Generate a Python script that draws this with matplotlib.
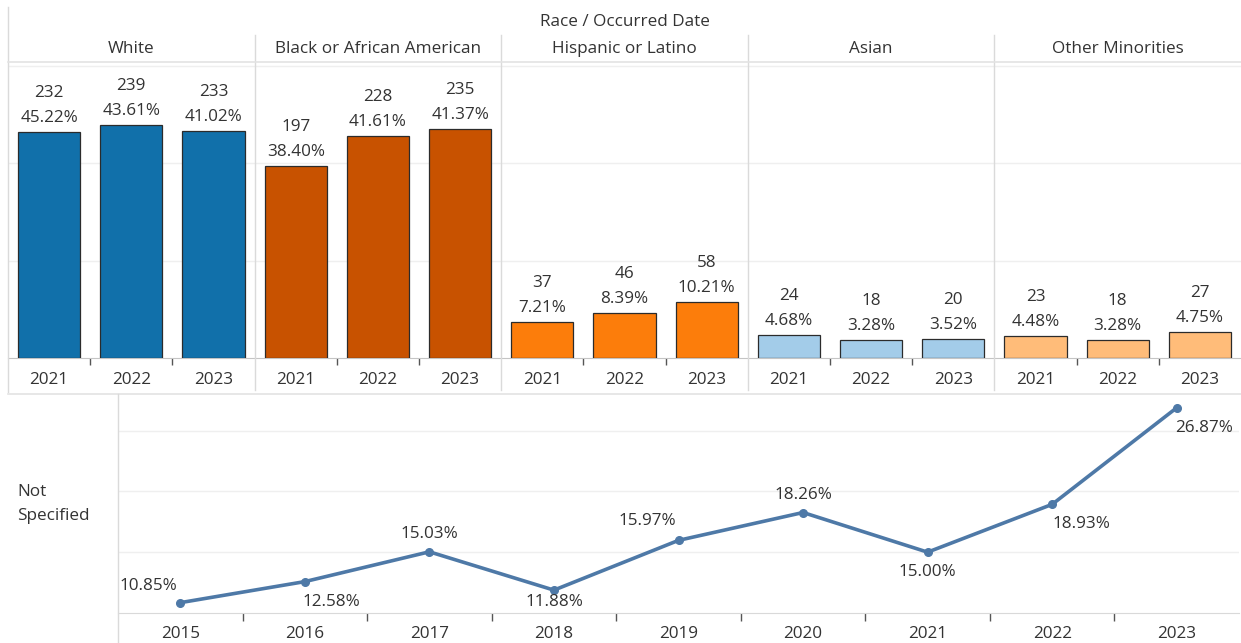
import matplotlib.pyplot as plt
from matplotlib.lines import Line2D

# ---- data ----
races = ["White", "Black or African American", "Hispanic or Latino", "Asian", "Other Minorities"]
years = ["2021", "2022", "2023"]
counts = [
    [232, 239, 233],
    [197, 228, 235],
    [37, 46, 58],
    [24, 18, 20],
    [23, 18, 27],
]
shares = [
    ["45.22%", "43.61%", "41.02%"],
    ["38.40%", "41.61%", "41.37%"],
    ["7.21%", "8.39%", "10.21%"],
    ["4.68%", "3.28%", "3.52%"],
    ["4.48%", "3.28%", "4.75%"],
]
race_colors = ["#1170aa", "#c85200", "#fc7d0b", "#a3cce9", "#ffbc79"]

ns_years = ["2015", "2016", "2017", "2018", "2019", "2020", "2021", "2022", "2023"]
ns_pct = [10.85, 12.58, 15.03, 11.88, 15.97, 18.26, 15.00, 18.93, 26.87]
# label offsets (pixels) and alignment for each point
ns_offsets = [(-3, 17, "right"), (-2, -20, "left"), (0, 18, "center"), (0, -12, "center"),
              (-2, 19, "right"), (0, 18, "center"), (0, -20, "center"), (0, -20, "left"),
              (-2, -20, "left")]

plt.rcParams["font.family"] = ["Open Sans", "DejaVu Sans"]
TXT = "#333333"
GRID = "#efefef"
SEP = "#dadada"
FS = 12.3

W, H = 1241, 643
fig = plt.figure(figsize=(W / 100, H / 100), dpi=100)


def fx(px):
    return px / W


def fy(py):
    return 1 - py / H


# ---- bar panel ----
left_px, right_px = 8, 1241
ax = fig.add_axes([fx(left_px), fy(358), fx(right_px - left_px), fy(64) - fy(358)])
n = len(races) * len(years)
positions = list(range(n))
for i, race in enumerate(races):
    xs = [i * 3 + j for j in range(3)]
    ax.bar(xs, counts[i], width=0.755, color=race_colors[i], edgecolor="#2b2b2b",
           linewidth=0.9, zorder=3)
    for x, c, s in zip(xs, counts[i], shares[i]):
        ax.annotate(f"{c}\n{s}", (x, c), xytext=(0, 6), textcoords="offset pixels",
                    ha="center", va="bottom", fontsize=FS, color=TXT, linespacing=1.75)

ax.set_xlim(-0.5, n - 0.5)
ax.set_ylim(0, 302)
ax.set_yticks([100, 200, 300])
ax.yaxis.grid(True, color=GRID, linewidth=1)
ax.tick_params(axis="y", left=False, labelleft=False)
ax.set_xticks(positions)
ax.set_xticklabels(years * len(races), fontsize=FS, color=TXT)
ax.tick_params(axis="x", length=0, pad=10)
ax.set_xticks([p + 0.5 for p in positions[:-1] if (p + 1) % 3 != 0], minor=True)
ax.tick_params(axis="x", which="minor", length=5, color="#555555", width=1)
for sp in ["top", "right", "left"]:
    ax.spines[sp].set_visible(False)
ax.spines["bottom"].set_color("#c4c4c4")
ax.set_axisbelow(True)

# header texts
fig.text(fx((left_px + right_px) / 2), fy(22), "Race / Occurred Date", ha="center",
         va="center", fontsize=FS, color=TXT)
panel_w = (right_px - left_px) / len(races)
for i, race in enumerate(races):
    cx = left_px + panel_w * (i + 0.5)
    fig.text(fx(cx), fy(49), race, ha="center", va="center", fontsize=FS, color=TXT)

# separators
fig.add_artist(Line2D([fx(left_px), fx(left_px)], [fy(7), fy(392)], color=SEP, lw=1))
for i in range(1, len(races)):
    x = left_px + panel_w * i
    fig.add_artist(Line2D([fx(x), fx(x)], [fy(35), fy(390)], color=SEP, lw=1))
fig.add_artist(Line2D([fx(left_px), fx(right_px)], [fy(62), fy(62)], color="#e3e3e3", lw=1.2))
fig.add_artist(Line2D([fx(left_px), fx(right_px)], [fy(394), fy(394)], color="#e3e3e3", lw=1.2))

# ---- line panel ----
lx0, lx1 = 118, 1239
ax2 = fig.add_axes([fx(lx0), fy(613), fx(lx1 - lx0), fy(394) - fy(613)])
xs = list(range(len(ns_years)))
ax2.plot(xs, ns_pct, color="#4e79a7", linewidth=2.6, marker="o", markersize=5.5,
         zorder=3)
for x, v, (dx, dy, ha) in zip(xs, ns_pct, ns_offsets):
    ax2.annotate(f"{v:.2f}%", (x, v), xytext=(dx, dy), textcoords="offset pixels",
                 ha=ha, va="center", fontsize=FS, color=TXT)
ax2.set_xlim(-0.5, len(ns_years) - 0.5)
ax2.set_ylim(10, 28)
ax2.set_yticks([15, 20, 25])
ax2.yaxis.grid(True, color=GRID, linewidth=1)
ax2.tick_params(axis="y", left=False, labelleft=False)
ax2.set_xticks(xs)
ax2.set_xticklabels(ns_years, fontsize=FS, color=TXT)
ax2.tick_params(axis="x", length=0, pad=9)
ax2.set_xticks([x + 0.5 for x in xs[:-1]], minor=True)
ax2.tick_params(axis="x", which="minor", length=6, color="#555555", width=1)
for sp in ["top", "right", "left"]:
    ax2.spines[sp].set_visible(False)
ax2.spines["bottom"].set_color("#d9d9d9")
ax2.set_axisbelow(True)
fig.add_artist(Line2D([fx(lx0), fx(lx0)], [fy(394), fy(643)], color=SEP, lw=1))

fig.text(fx(17), fy(504), "Not\nSpecified", ha="left", va="center", fontsize=FS,
         color=TXT, linespacing=1.6)

fig.savefig("out.png", dpi=100)
